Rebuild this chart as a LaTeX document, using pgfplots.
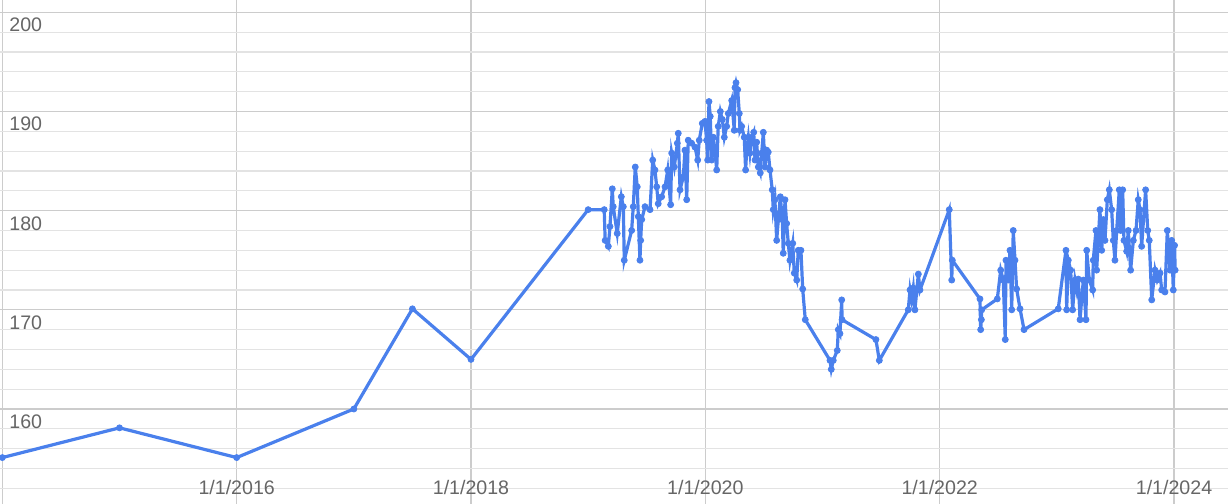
\documentclass[border=0pt]{standalone}
\usepackage{pgfplots}
\usepackage{pgfplotstable}
\pgfplotsset{compat=1.18}
\usepackage{fontspec}
\setmainfont{Liberation Sans}

\definecolor{lineblue}{RGB}{74,128,236}
\definecolor{labelgray}{RGB}{102,102,102}

% decimal year, value
\pgfplotstableread{
x y
2014.000 155.1
2015.000 158.1
2016.000 155.1
2017.000 160.0
2017.500 170.1
2018.000 165.0
2019.000 180.1
2019.137 180.1
2019.145 177.0
2019.172 176.4
2019.186 178.4
2019.206 182.2
2019.214 180.4
2019.248 177.7
2019.283 181.4
2019.300 180.4
2019.308 175.0
2019.371 178.0
2019.385 180.4
2019.402 184.4
2019.419 182.4
2019.428 179.4
2019.442 175.0
2019.448 177.0
2019.457 179.1
2019.485 180.4
2019.528 180.1
2019.551 185.1
2019.570 184.1
2019.585 182.4
2019.598 180.7
2019.627 181.4
2019.656 182.4
2019.679 184.1
2019.704 180.6
2019.713 185.8
2019.735 184.4
2019.761 186.8
2019.769 187.8
2019.784 182.1
2019.812 183.4
2019.826 186.1
2019.841 181.1
2019.854 187.1
2019.883 186.8
2019.912 186.4
2019.935 185.1
2019.948 187.1
2019.974 188.8
2019.997 189.0
2020.011 187.1
2020.020 185.1
2020.031 191.0
2020.042 189.5
2020.054 185.1
2020.068 187.4
2020.082 186.1
2020.097 184.1
2020.110 188.5
2020.128 190.0
2020.145 189.2
2020.162 187.4
2020.182 188.5
2020.196 189.8
2020.225 191.1
2020.247 188.1
2020.253 192.4
2020.262 192.9
2020.276 192.2
2020.290 189.8
2020.296 188.1
2020.310 188.5
2020.332 187.4
2020.344 184.1
2020.353 186.1
2020.367 187.4
2020.381 185.8
2020.396 187.4
2020.413 187.9
2020.424 185.1
2020.438 186.9
2020.452 184.4
2020.469 183.8
2020.481 185.8
2020.495 187.9
2020.509 184.4
2020.524 186.1
2020.537 185.9
2020.552 184.1
2020.571 182.1
2020.580 180.1
2020.594 181.1
2020.609 177.0
2020.623 179.1
2020.640 181.4
2020.657 179.1
2020.665 175.7
2020.680 181.1
2020.694 178.7
2020.708 176.7
2020.722 175.0
2020.746 176.7
2020.759 173.7
2020.780 173.0
2020.793 176.0
2020.816 176.0
2020.831 172.1
2020.853 169.0
2021.064 164.9
2021.075 164.0
2021.092 164.9
2021.126 165.9
2021.135 168.0
2021.149 167.6
2021.164 171.0
2021.167 169.0
2021.456 167.0
2021.485 164.9
2021.732 170.0
2021.747 172.0
2021.761 171.0
2021.775 172.2
2021.789 170.0
2021.818 173.6
2021.832 172.0
2022.082 180.1
2022.103 173.0
2022.108 175.0
2022.344 171.1
2022.350 168.0
2022.356 169.0
2022.359 170.0
2022.492 171.1
2022.521 174.0
2022.543 173.0
2022.560 167.0
2022.566 175.0
2022.586 173.0
2022.600 176.0
2022.615 170.0
2022.628 178.0
2022.643 175.0
2022.657 172.1
2022.686 170.1
2022.720 168.0
2023.012 170.1
2023.078 176.0
2023.084 170.0
2023.098 175.0
2023.118 174.0
2023.135 170.0
2023.155 173.0
2023.170 172.0
2023.183 173.1
2023.198 169.0
2023.226 173.0
2023.249 169.0
2023.255 176.0
2023.277 173.0
2023.306 172.0
2023.311 175.0
2023.334 178.0
2023.340 174.0
2023.368 180.1
2023.383 176.0
2023.397 179.1
2023.411 177.0
2023.431 181.1
2023.448 182.1
2023.468 180.1
2023.482 177.0
2023.496 175.0
2023.511 178.0
2023.533 182.1
2023.545 178.0
2023.562 182.1
2023.573 177.0
2023.596 175.9
2023.610 178.0
2023.630 174.0
2023.653 177.0
2023.676 178.0
2023.695 181.1
2023.710 180.1
2023.724 176.4
2023.758 182.1
2023.776 178.0
2023.789 177.0
2023.810 171.0
2023.838 174.0
2023.857 173.0
2023.881 173.7
2023.895 172.0
2023.923 171.8
2023.943 178.0
2023.966 174.0
2023.980 177.0
2023.994 172.0
2024.005 176.5
2024.010 174.0
}\prices

\begin{document}
\begin{tikzpicture}
\begin{axis}[
    name=ax,
    scale only axis,
    width=614pt, height=252pt,
    xmin=2013.98, xmax=2024.461,
    ymin=150.42, ymax=201.24,
    axis line style={draw=none},
    major tick length=0pt, minor tick length=0pt,
    xtick={2014,2016,...,2024},
    xticklabels={,1/1/2016,1/1/2018,1/1/2020,1/1/2022,1/1/2024},
    ytick={160,170,180,190,200},
    minor ytick={150,152,...,200},
    grid=both,
    major grid style={draw=black!20, line width=0.65pt},
    minor grid style={draw=black!11, line width=0.6pt},
    /pgf/number format/assume math mode=true,
    ticklabel style={font=\fontsize{9.8}{12}\selectfont, text=labelgray, inner sep=0pt},
    xticklabel style={anchor=base, yshift=5pt},
    yticklabel style={anchor=base west, xshift=4.5pt, yshift=-9.7pt},
]
\addplot[color=lineblue, line width=1.6pt,
    mark=*, mark size=1.5pt, mark options={fill=lineblue, draw=lineblue, line width=0.4pt}]
    table[x=x, y=y] {\prices};
\end{axis}
\pgfresetboundingbox
\path[use as bounding box] (ax.south west) rectangle (ax.north east);
\end{tikzpicture}
\end{document}
